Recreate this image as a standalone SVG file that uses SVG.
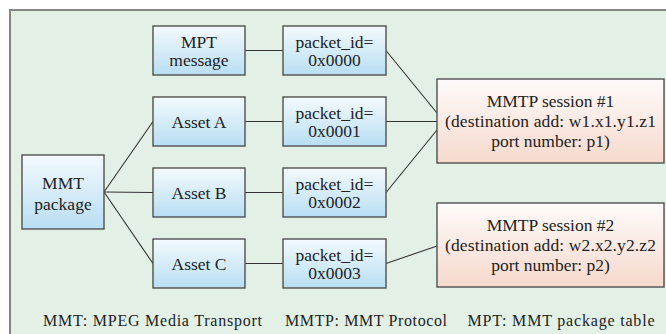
<svg xmlns="http://www.w3.org/2000/svg" width="666" height="334" viewBox="0 0 666 334">
  <defs>
    <linearGradient id="blueFill" x1="0" y1="0" x2="0" y2="1">
      <stop offset="0" stop-color="#f4fafd"/>
      <stop offset="1" stop-color="#b8def3"/>
    </linearGradient>
    <linearGradient id="pinkFill" x1="0" y1="0" x2="0" y2="1">
      <stop offset="0" stop-color="#fefbfa"/>
      <stop offset="1" stop-color="#f6d9cd"/>
    </linearGradient>
  </defs>
  <style>
    .frame { fill: #e2f0e6; stroke: #858585; stroke-width: 2; }
    .node rect { fill: url(#blueFill); stroke: #505050; stroke-width: 1.4; }
    .session rect { fill: url(#pinkFill); stroke: #505050; stroke-width: 1.4; }
    #connectors line { stroke: #333; stroke-width: 1.1; }
  </style>

  <rect width="666" height="334" fill="#ffffff"/>
  <rect class="frame" x="10" y="10" width="680" height="340"/>

  <g id="connectors">
    <line x1="104" y1="192" x2="153" y2="121.5"/>
    <line x1="104" y1="192" x2="153" y2="192.5"/>
    <line x1="104" y1="192" x2="153" y2="263.5"/>
    <line x1="245" y1="50.5" x2="283" y2="50.5"/>
    <line x1="245" y1="121.5" x2="283" y2="121.5"/>
    <line x1="245" y1="192.5" x2="283" y2="192.5"/>
    <line x1="245" y1="263.5" x2="283" y2="263.5"/>
    <line x1="386" y1="50.5" x2="437" y2="113"/>
    <line x1="386" y1="121.5" x2="437" y2="121.5"/>
    <line x1="386" y1="192.5" x2="437" y2="130"/>
    <line x1="386" y1="263.5" x2="437" y2="246"/>
  </g>

  <g id="mmt-package" class="node">
    <rect x="22" y="155" width="82" height="74"/>
    <text x="63" y="189" font-family="Liberation Serif" font-size="17.5" text-anchor="middle" fill="#222">MMT</text>
    <text x="63" y="210" font-family="Liberation Serif" font-size="17.5" text-anchor="middle" fill="#222">package</text>
  </g>

  <g id="mpt-message" class="node">
    <rect x="153" y="26" width="92" height="49"/>
    <text x="199" y="48" font-family="Liberation Serif" font-size="17.5" text-anchor="middle" fill="#222">MPT</text>
    <text x="199" y="66" font-family="Liberation Serif" font-size="17.5" text-anchor="middle" fill="#222">message</text>
  </g>
  <g id="asset-a" class="node">
    <rect x="153" y="97" width="92" height="49"/>
    <text x="199" y="127.5" font-family="Liberation Serif" font-size="17.5" text-anchor="middle" fill="#222">Asset A</text>
  </g>
  <g id="asset-b" class="node">
    <rect x="153" y="168" width="92" height="49"/>
    <text x="199" y="198.5" font-family="Liberation Serif" font-size="17.5" text-anchor="middle" fill="#222">Asset B</text>
  </g>
  <g id="asset-c" class="node">
    <rect x="153" y="239" width="92" height="49"/>
    <text x="199" y="269.5" font-family="Liberation Serif" font-size="17.5" text-anchor="middle" fill="#222">Asset C</text>
  </g>

  <g id="packet-0000" class="node">
    <rect x="283" y="26" width="103" height="49"/>
    <text x="334.5" y="48" font-family="Liberation Serif" font-size="17.5" text-anchor="middle" fill="#222">packet_id=</text>
    <text x="334.5" y="66" font-family="Liberation Serif" font-size="17.5" text-anchor="middle" fill="#222">0x0000</text>
  </g>
  <g id="packet-0001" class="node">
    <rect x="283" y="97" width="103" height="49"/>
    <text x="334.5" y="119" font-family="Liberation Serif" font-size="17.5" text-anchor="middle" fill="#222">packet_id=</text>
    <text x="334.5" y="137" font-family="Liberation Serif" font-size="17.5" text-anchor="middle" fill="#222">0x0001</text>
  </g>
  <g id="packet-0002" class="node">
    <rect x="283" y="168" width="103" height="49"/>
    <text x="334.5" y="190" font-family="Liberation Serif" font-size="17.5" text-anchor="middle" fill="#222">packet_id=</text>
    <text x="334.5" y="208" font-family="Liberation Serif" font-size="17.5" text-anchor="middle" fill="#222">0x0002</text>
  </g>
  <g id="packet-0003" class="node">
    <rect x="283" y="239" width="103" height="49"/>
    <text x="334.5" y="261" font-family="Liberation Serif" font-size="17.5" text-anchor="middle" fill="#222">packet_id=</text>
    <text x="334.5" y="279" font-family="Liberation Serif" font-size="17.5" text-anchor="middle" fill="#222">0x0003</text>
  </g>

  <g id="session-1" class="session">
    <rect x="437" y="79" width="227" height="84"/>
    <text x="550.5" y="107" font-family="Liberation Serif" font-size="17.5" text-anchor="middle" fill="#222">MMTP session #1</text>
    <text x="550.5" y="127" font-family="Liberation Serif" font-size="17.5" text-anchor="middle" fill="#222" textLength="211">(destination add: w1.x1.y1.z1</text>
    <text x="550.5" y="147" font-family="Liberation Serif" font-size="17.5" text-anchor="middle" fill="#222">port number: p1)</text>
  </g>
  <g id="session-2" class="session">
    <rect x="437" y="203" width="227" height="84"/>
    <text x="550.5" y="231" font-family="Liberation Serif" font-size="17.5" text-anchor="middle" fill="#222">MMTP session #2</text>
    <text x="550.5" y="251" font-family="Liberation Serif" font-size="17.5" text-anchor="middle" fill="#222" textLength="211">(destination add: w2.x2.y2.z2</text>
    <text x="550.5" y="271" font-family="Liberation Serif" font-size="17.5" text-anchor="middle" fill="#222">port number: p2)</text>
  </g>

  <g id="legend">
    <text x="43" y="326" font-family="Liberation Serif" font-size="16" fill="#222" textLength="219">MMT: MPEG Media Transport</text>
    <text x="285" y="326" font-family="Liberation Serif" font-size="16" fill="#222" textLength="162">MMTP: MMT Protocol</text>
    <text x="467.5" y="326" font-family="Liberation Serif" font-size="16" fill="#222" textLength="187">MPT: MMT package table</text>
  </g>
</svg>
